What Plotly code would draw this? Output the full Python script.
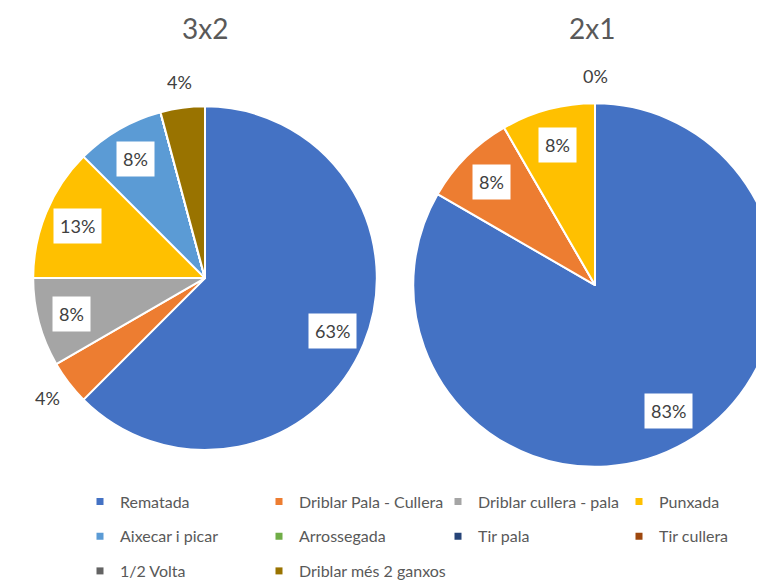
import math
import plotly.graph_objects as go

# ---------------- data ----------------
categories = ["Rematada", "Driblar Pala - Cullera", "Driblar cullera - pala", "Punxada",
              "Aixecar i picar", "Arrossegada", "Tir pala", "Tir cullera", "1/2 Volta",
              "Driblar més 2 ganxos"]
colors = ["#4472C4", "#ED7D31", "#A5A5A5", "#FFC000", "#5B9BD5", "#70AD47",
          "#264478", "#9E480E", "#636363", "#997300"]
values_3x2 = [15, 1, 2, 3, 2, None, None, None, None, 1]
values_2x1 = [10, 1, None, 1, None, None, None, None, None, 0]
titles = ["3x2", "2x1"]

# page renders with an 8px body margin; layout coordinates below are in figure pixels
OFF = 8
W, H = 780, 580
FONT = "Lato"
TXT = "#404040"


def dom_from(cx, cy, r):
    cx, cy = cx - OFF, cy - OFF
    return dict(x=[(cx - r) / W, (cx + r) / W], y=[1 - (cy + r) / H, 1 - (cy - r) / H])


dom_left = dom_from(205, 280, 173)
dom_right = dom_from(595, 287, 183)

fig = go.Figure()
annotations = []


def add_pie(vals, dom, title, title_x):
    v = [0 if x is None else x for x in vals]
    fig.add_trace(go.Pie(
        labels=categories, values=v, sort=False, direction="clockwise", rotation=0,
        marker=dict(colors=colors, line=dict(color="white", width=2)),
        textinfo="none", showlegend=False, domain=dom, hoverinfo="label+percent",
    ))
    x0, x1 = dom["x"][0] * W, dom["x"][1] * W
    y0, y1 = (1 - dom["y"][1]) * H, (1 - dom["y"][0]) * H
    cx, cy = (x0 + x1) / 2, (y0 + y1) / 2
    r = min(x1 - x0, y1 - y0) / 2
    total = sum(v)
    cum = 0
    for val in vals:
        if val is None:
            continue
        frac = val / total
        th = (cum + val / 2) / total * 2 * math.pi
        cum += val
        inside = frac >= 0.05
        d = 0.8 * r if inside else 1.15 * r
        px = cx + d * math.sin(th)
        py = cy - d * math.cos(th)
        annotations.append(dict(
            x=px / W, y=1 - py / H, xref="paper", yref="paper",
            text=f"{math.floor(frac * 100 + 0.5)}%", showarrow=False,
            font=dict(family=FONT, size=18, color=TXT),
            bgcolor="white" if inside else "rgba(0,0,0,0)", borderpad=6,
            xanchor="center", yanchor="middle",
        ))
    annotations.append(dict(
        x=(title_x - OFF) / W, y=1 - (28 - OFF) / H, xref="paper", yref="paper", text=title,
        showarrow=False, font=dict(family=FONT, size=28, color="#595959"),
        xanchor="center", yanchor="middle",
    ))


add_pie(values_3x2, dom_left, titles[0], 205)
add_pie(values_2x1, dom_right, titles[1], 592)

# legend: one single-entry legend per cell of a 4-column grid
col_marker_x = [103, 282, 461, 642]
row_center_y = [500, 535, 570]
legends = {}
for i, (cat, col) in enumerate(zip(categories, colors)):
    name = "legend" if i == 0 else f"legend{i + 1}"
    fig.add_trace(go.Scatter(
        x=[None], y=[None], mode="markers", name=cat,
        marker=dict(symbol="square", size=7, color=col),
        legend=name, showlegend=True, hoverinfo="skip",
    ))
    lx = col_marker_x[i % 4] - 7 - 16 - OFF
    ly = row_center_y[i // 4] - OFF + 5
    legends[name] = dict(
        orientation="h", x=lx / W, xanchor="left", y=1 - ly / H, yanchor="middle",
        font=dict(family=FONT, size=16, color="#595959"),
        bgcolor="rgba(0,0,0,0)", itemwidth=30,
    )

fig.update_layout(
    width=W, height=H,
    margin=dict(l=0, r=0, t=0, b=0),
    paper_bgcolor="white", plot_bgcolor="white",
    xaxis=dict(visible=False), yaxis=dict(visible=False),
    annotations=annotations,
    font=dict(family=FONT),
    **legends,
)

fig.write_html("out.html")
